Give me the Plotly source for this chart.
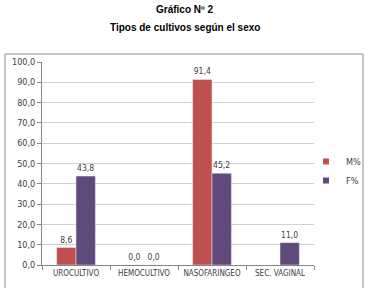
import plotly.graph_objects as go

categories = ["UROCULTIVO", "HEMOCULTIVO", "NASOFARINGEO", "SEC. VAGINAL"]
m_values = [8.6, 0.0, 91.4, None]
f_values = [43.8, 0.0, 45.2, 11.0]
y_ticks = [0, 10, 20, 30, 40, 50, 60, 70, 80, 90, 100]
series_names = ["M%", "F%"]
series_colors = ["#C0504D", "#604A7B"]

W, H = 369, 288
L, R, T, B = 42, 55, 62, 23
pw, ph = W - L - R, H - T - B

def px(x):
    return (x - L) / pw

def py(y):
    return (H - B - y) / ph

NARROW = "DejaVu Sans Condensed, Liberation Sans Narrow, sans-serif"

fig = go.Figure()
for name, vals, col in zip(series_names, [m_values, f_values], series_colors):
    fig.add_trace(go.Bar(name=name, x=categories, y=vals, marker_color=col,
                         texttemplate="%{y:.1f}", textposition="outside",
                         textfont=dict(size=8.5, color="#404040", family=NARROW),
                         cliponaxis=False, showlegend=False))
for name, col in zip(series_names, series_colors):
    fig.add_trace(go.Scatter(name=name, x=[None], y=[None], mode="markers",
                             marker=dict(symbol="square", size=6, color=col),
                             showlegend=True))

fig.update_layout(
    width=W, height=H,
    margin=dict(l=L, r=R, t=T, b=B, autoexpand=False),
    paper_bgcolor="white", plot_bgcolor="white",
    separators=",.",
    barmode="group", bargap=0.43, bargroupgap=0,
    font=dict(family=NARROW, size=9, color="#404040"),
    showlegend=True,
    legend=dict(x=px(306), y=py(171), xanchor="left", yanchor="middle",
                font=dict(size=9, color="#404040", family=NARROW), itemwidth=30,
                tracegroupgap=0, bgcolor="rgba(0,0,0,0)"),
    xaxis=dict(showline=True, linecolor="#868686", linewidth=1, ticks="outside",
               tickson="boundaries", ticklen=4, tickcolor="#868686", tickangle=0,
               tickfont=dict(size=8, color="#404040", family=NARROW)),
    yaxis=dict(range=[0, 100], tickvals=y_ticks, tickformat=".1f",
               showgrid=True, gridcolor="#D0D0D0", gridwidth=1,
               showline=True, linecolor="#868686", ticks="outside", ticklen=4,
               tickcolor="#868686", zeroline=False,
               tickfont=dict(size=9, color="#404040", family=NARROW)),
    shapes=[dict(type="rect", xref="paper", yref="paper",
                 x0=px(5), x1=px(363), y0=py(292), y1=py(54),
                 line=dict(color="#8C8C8C", width=1), fillcolor="rgba(0,0,0,0)", layer="below")],
    annotations=[
        dict(text="<b>Gráfico Nº 2</b>", xref="paper", yref="paper", x=px(184.5), y=py(9),
             showarrow=False, font=dict(size=10, color="black", family="Liberation Sans, Arial"),
             xanchor="center", yanchor="middle"),
        dict(text="<b>Tipos de cultivos según el sexo</b>", xref="paper", yref="paper",
             x=px(184.5), y=py(27), showarrow=False,
             font=dict(size=10, color="black", family="Liberation Sans, Arial"),
             xanchor="center", yanchor="middle"),
    ],
)

fig.write_html("out.html")
